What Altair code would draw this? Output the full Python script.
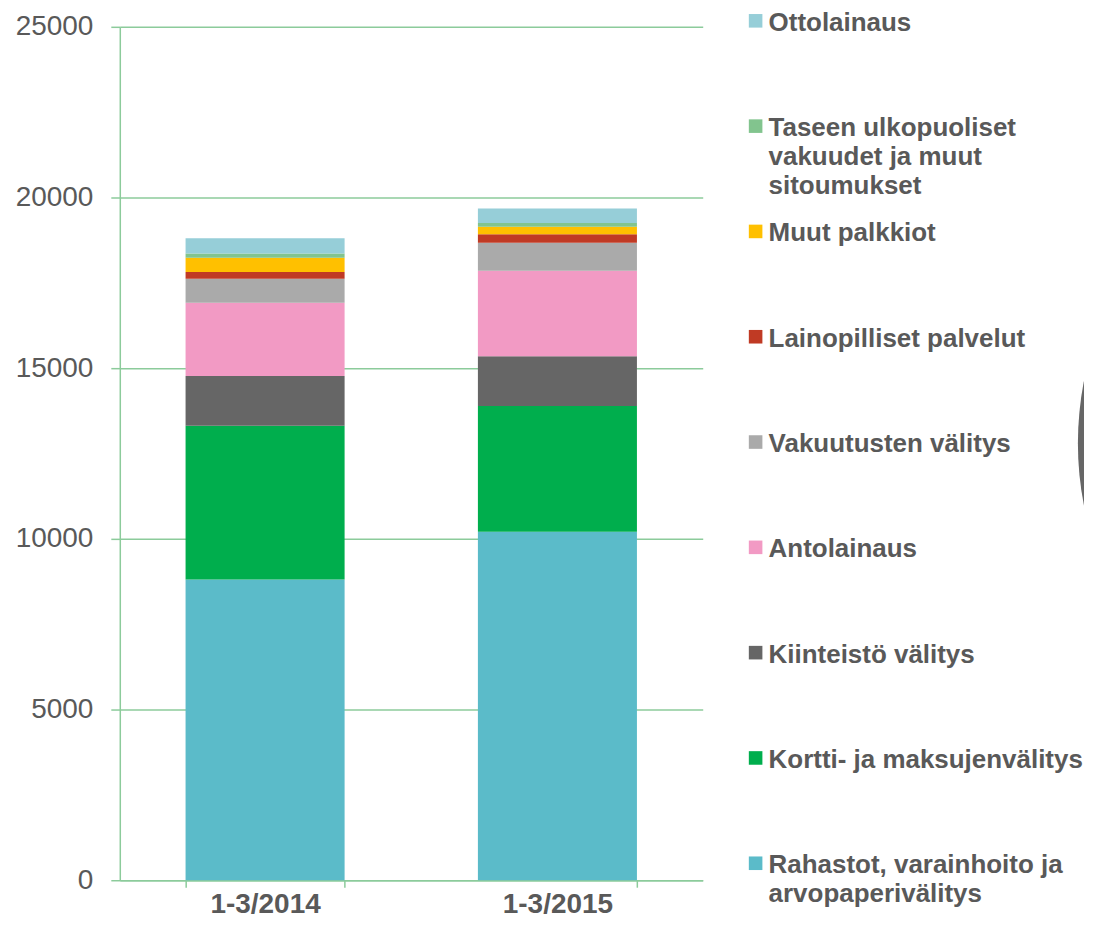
import altair as alt
import pandas as pd

periods = ["1-3/2014", "1-3/2015"]

# stack order, bottom to top
categories = [
    "Rahastot, varainhoito ja arvopaperivälitys",
    "Kortti- ja maksujenvälitys",
    "Kiinteistö välitys",
    "Antolainaus",
    "Vakuutusten välitys",
    "Lainopilliset palvelut",
    "Muut palkkiot",
    "Taseen ulkopuoliset vakuudet ja muut sitoumukset",
    "Ottolainaus",
]
legend_labels = [
    "Rahastot, varainhoito ja\narvopaperivälitys",
    "Kortti- ja maksujenvälitys",
    "Kiinteistö välitys",
    "Antolainaus",
    "Vakuutusten välitys",
    "Lainopilliset palvelut",
    "Muut palkkiot",
    "Taseen ulkopuoliset\nvakuudet ja muut\nsitoumukset",
    "Ottolainaus",
]
colors = [
    "#5BBBC9", "#00AE4D", "#666666", "#F29AC4", "#AAAAAA",
    "#C03A24", "#FFC000", "#82C48E", "#96CED8",
]
values_2014 = [8810, 4500, 1460, 2150, 700, 195, 420, 125, 445]
values_2015 = [10205, 3685, 1460, 2505, 820, 245, 225, 105, 430]
y_ticks = [0, 5000, 10000, 15000, 20000, 25000]

rows = []
for i, c in enumerate(categories):
    rows.append({"period": periods[0], "category": c, "order": i, "value": values_2014[i]})
    rows.append({"period": periods[1], "category": c, "order": i, "value": values_2015[i]})
df = pd.DataFrame(rows)
df_2015 = df[df["period"] == periods[1]]

legend_df = pd.DataFrame({"category": categories, "label": legend_labels})
legend_order = list(reversed(categories))

GRID = "#8CCB9B"
TEXT = "#595959"
FONT = "Liberation Sans"

color_scale = alt.Scale(domain=categories, range=colors)

bars = alt.Chart(df).mark_bar().encode(
    x=alt.X(
        "period:N", sort=periods,
        scale=alt.Scale(paddingInner=0.456, paddingOuter=0.225),
        axis=alt.Axis(
            title=None, labelAngle=0, labelFontSize=28, labelFontWeight="bold",
            labelColor=TEXT, labelFont=FONT, tickBand="extent", tickSize=7,
            tickColor=GRID, tickWidth=1.5, domainColor=GRID, domainWidth=1.5,
            labelPadding=3, grid=False,
        ),
    ),
    y=alt.Y(
        "value:Q", stack="zero",
        scale=alt.Scale(domain=[0, 25000], nice=False),
        axis=alt.Axis(
            title=None, values=y_ticks, format="d", labelFontSize=28, labelColor=TEXT,
            labelFont=FONT, tickSize=9, tickColor=GRID, tickWidth=1.5,
            domainColor=GRID, domainWidth=1.5, gridColor=GRID, gridWidth=1.5,
            labelPadding=18, grid=True,
        ),
    ),
    color=alt.Color("category:N", scale=color_scale, legend=None),
    order=alt.Order("order:Q", sort="ascending"),
).properties(width=584, height=855)

pie = alt.Chart(df_2015).mark_arc(radius=330, clip=True).encode(
    theta=alt.Theta("value:Q", stack=True),
    color=alt.Color("category:N", scale=color_scale, legend=None),
    order=alt.Order("order:Q", sort="ascending"),
    x=alt.value(688),
    y=alt.value(417),
)

legend_y = alt.Y(
    "category:N",
    scale=alt.Scale(type="point", domain=legend_order, range=[-6, 838], padding=0),
    axis=None,
)

squares = alt.Chart(legend_df).mark_square(size=185, opacity=1).encode(
    x=alt.value(35),
    y=legend_y,
    color=alt.Color("category:N", scale=color_scale, legend=None),
)

texts = alt.Chart(legend_df).mark_text(
    align="left", baseline="top", dy=-11, lineBreak="\n", lineHeight=29,
    fontSize=26, fontWeight="bold", font=FONT, color=TEXT,
).encode(
    x=alt.value(48),
    y=legend_y,
    text="label:N",
)

right = alt.layer(pie, squares, texts).properties(width=364, height=855)

chart = (
    alt.hconcat(bars, right, spacing=16)
    .resolve_scale(x="independent", y="independent")
    .configure_view(stroke="transparent")
    .properties(padding={"left": 6, "top": 0, "right": 0, "bottom": 0})
)

chart.save("out.html", embed_options={"renderer": "svg", "actions": False})
